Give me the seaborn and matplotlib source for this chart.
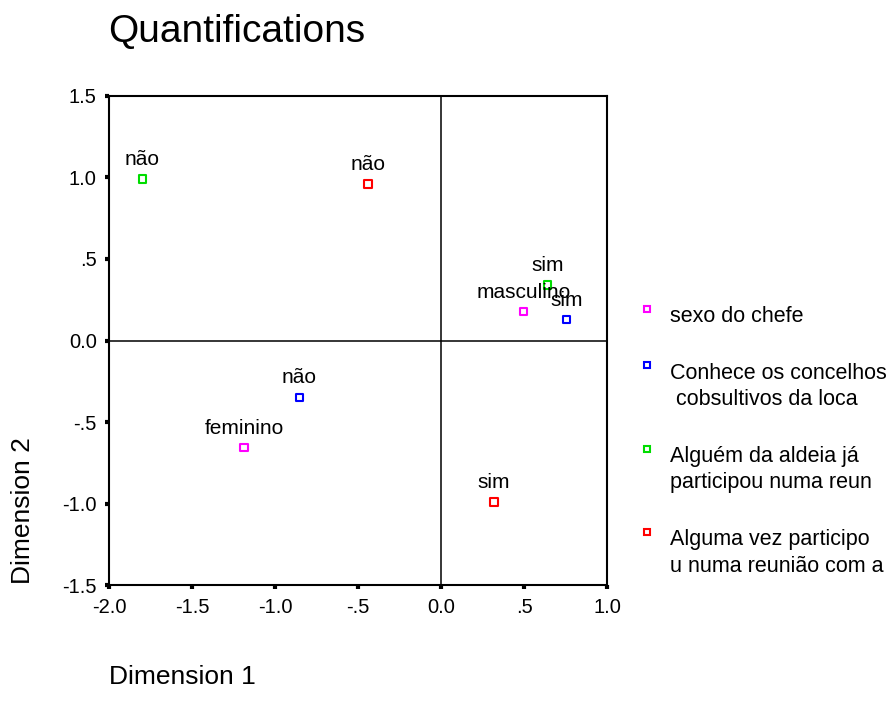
import matplotlib
matplotlib.use("Agg")
import matplotlib.pyplot as plt
from matplotlib.lines import Line2D
from matplotlib.legend_handler import HandlerLine2D
import seaborn as sns
import pandas as pd

variables = ["sexo do chefe",
             "Conhece os concelhos\n cobsultivos da loca",
             "Alguém da aldeia já\nparticipou numa reun",
             "Alguma vez participo\nu numa reunião com a"]
colors = ["#FF00FF", "#0000FF", "#00DD00", "#FF0000"]

point_var = [0, 0, 1, 1, 2, 2, 3, 3]
point_label = ["masculino", "feminino", "sim", "não", "sim", "não", "sim", "não"]
dim1 = [0.495, -1.187, 0.757, -0.855, 0.64, -1.80, 0.318, -0.44]
dim2 = [0.176, -0.657, 0.127, -0.348, 0.34, 0.99, -0.99, 0.96]

xticks = [-2.0, -1.5, -1.0, -0.5, 0.0, 0.5, 1.0]
xticklabels = ["-2.0", "-1.5", "-1.0", "-.5", "0.0", ".5", "1.0"]
yticks = [-1.5, -1.0, -0.5, 0.0, 0.5, 1.0, 1.5]
yticklabels = ["-1.5", "-1.0", "-.5", "0.0", ".5", "1.0", "1.5"]

df = pd.DataFrame({"var": [variables[i] for i in point_var],
                   "label": point_label, "d1": dim1, "d2": dim2})

sns.set_style("white")
plt.rcParams['font.family'] = ['Liberation Sans', 'DejaVu Sans']
plt.rcParams['text.color'] = 'black'

fig = plt.figure(figsize=(8.92, 7.05), dpi=100)
ax = fig.add_axes([0.1225, 0.170, 0.558, 0.694])

sns.scatterplot(data=df, x="d1", y="d2", hue="var", hue_order=variables,
                palette=colors, marker="s", s=28, linewidth=1.5, legend=False,
                ax=ax, zorder=3)
coll = ax.collections[0]
fc = coll.get_facecolors()
coll.set_edgecolors(fc)
coll.set_facecolors("none")

for _, r in df.iterrows():
    ax.annotate(r["label"], (r["d1"], r["d2"]), xytext=(0, 10),
                textcoords="offset points", ha="center", va="baseline",
                fontsize=15, color="black", zorder=4)

ax.axhline(0, color="black", lw=1.1, zorder=1)
ax.axvline(0, color="black", lw=1.1, zorder=1)

ax.set_xlim(-2.0, 1.0)
ax.set_ylim(-1.5, 1.5)
ax.set_xticks(xticks)
ax.set_xticklabels(xticklabels)
ax.set_yticks(yticks)
ax.set_yticklabels(yticklabels)
ax.tick_params(axis="both", direction="out", length=3, width=3,
               labelsize=14.5, colors="black", bottom=True, left=True, pad=6)
for sp in ax.spines.values():
    sp.set_color("black")
    sp.set_linewidth(1.5)
ax.set_xlabel("")
ax.set_ylabel("")

fig.text(0.121, 0.9404, "Quantifications", fontsize=28, ha="left",
         va="baseline", color="black")
fig.text(0.026, 0.172, "Dimension 2", fontsize=19, rotation=90,
         ha="center", va="bottom", color="black")
fig.text(0.1222, 0.0298, "Dimension 1", fontsize=19, ha="left", va="baseline",
         color="black")


class TopHandler(HandlerLine2D):
    def __init__(self, shift, **kw):
        super().__init__(**kw)
        self.shift = shift

    def create_artists(self, legend, orig_handle, xdescent, ydescent,
                       width, height, fontsize, trans):
        return super().create_artists(legend, orig_handle, xdescent,
                                      ydescent - 2 * self.shift, width,
                                      height, fontsize, trans)


handles = [Line2D([], [], marker="s", linestyle="none", markersize=5,
                  markerfacecolor="none", markeredgecolor=c, markeredgewidth=1.5)
           for c in colors]
shifts = [4, 15.5, 15.5, 15.5]
hmap = {h: TopHandler(s) for h, s in zip(handles, shifts)}
leg = fig.legend(handles, variables, loc="upper left", handler_map=hmap,
                 bbox_to_anchor=(0.716, 0.566), frameon=False, fontsize=15.5,
                 handlelength=0.8, handletextpad=0.67, labelspacing=1.67,
                 borderaxespad=0, borderpad=0)
for t in leg.get_texts():
    t.set_linespacing(1.33)
    t.set_color("black")

fig.savefig("out.png", dpi=100)
